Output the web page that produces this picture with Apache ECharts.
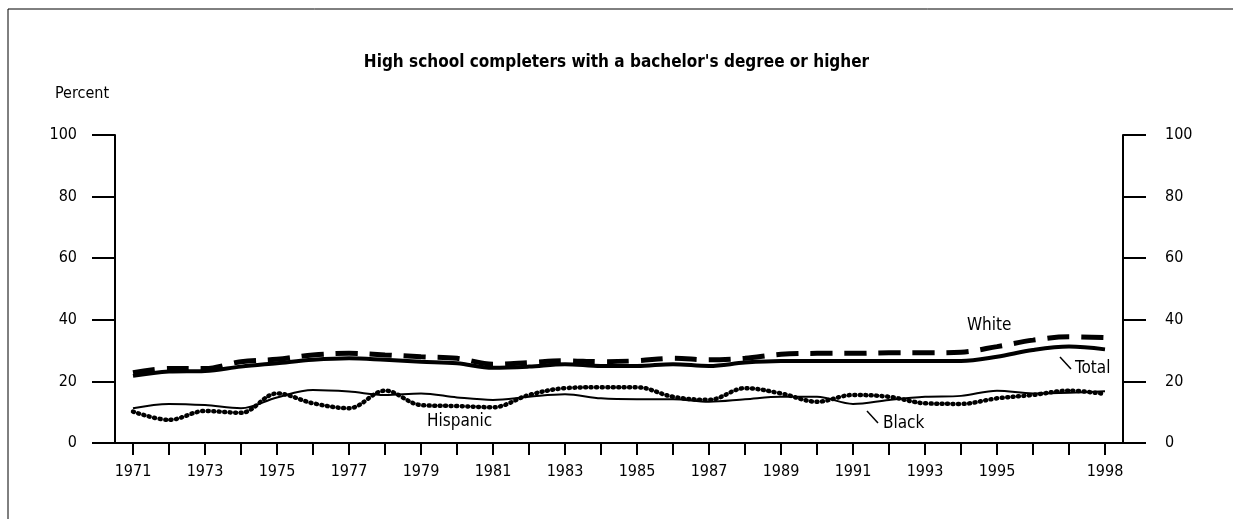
<!DOCTYPE html>
<html>
<head>
<meta charset="utf-8">
<script src="https://cdn.jsdelivr.net/npm/echarts@6/dist/echarts.min.js"></script>
<style>
html,body{margin:0;padding:0;background:#fff;}
#c{width:1233px;height:519px;}
</style>
</head>
<body>
<div id="c"></div>
<script>
const years = ['1971','1972','1973','1974','1975','1976','1977','1978','1979','1980','1981','1982','1983','1984','1985','1986','1987','1988','1989','1990','1991','1992','1993','1994','1995','1996','1997','1998'];
const shownYears = ['1971','1973','1975','1977','1979','1981','1983','1985','1987','1989','1991','1993','1995','1998'];
const total = [21.8, 23.2, 23.4, 24.8, 25.9, 27.0, 27.5, 27.0, 26.4, 25.9, 24.4, 24.8, 25.6, 25.0, 25.0, 25.6, 25.0, 26.1, 26.6, 26.6, 26.6, 26.6, 26.6, 26.6, 28.0, 30.2, 31.3, 30.4];
const white = [22.8, 24.2, 24.2, 26.4, 27.2, 28.6, 29.1, 28.6, 28.0, 27.5, 25.6, 26.1, 26.7, 26.4, 26.7, 27.5, 27.0, 27.5, 28.8, 29.1, 29.1, 29.3, 29.3, 29.5, 31.3, 33.4, 34.5, 34.2];
const black = [11.3, 12.7, 12.3, 11.3, 14.8, 17.2, 16.7, 15.6, 16.1, 14.8, 14.0, 15.0, 15.8, 14.5, 14.2, 14.2, 13.4, 14.2, 15.0, 15.0, 12.7, 14.0, 15.0, 15.3, 17.0, 16.1, 16.3, 16.8];
const hispanic = [10.2, 7.5, 10.4, 9.8, 16.1, 12.9, 11.3, 17.0, 12.3, 12.0, 11.6, 15.6, 17.8, 18.1, 18.1, 15.0, 14.0, 17.8, 16.1, 13.4, 15.6, 15.0, 12.9, 12.7, 14.5, 15.6, 17.0, 15.9];
const yTicks = [0, 20, 40, 60, 80, 100];

const FONT = "'Liberation Sans Narrow','DejaVu Sans Condensed','Open Sans',sans-serif";
const chart = echarts.init(document.getElementById('c'), null, {renderer: 'canvas'});
const axisLine = {show: true, lineStyle: {color: '#000', width: 2}};
const yAxisBase = {
  type: 'value', min: 0, max: 100, interval: 20,
  splitLine: {show: false},
  axisLine: axisLine,
  axisTick: {show: true, inside: false, length: 23, lineStyle: {color: '#000', width: 2}},
  axisLabel: {color: '#000', fontSize: 16, fontFamily: FONT,
    formatter: v => yTicks.includes(v) ? String(v) : ''}
};
chart.setOption({
  animation: false,
  backgroundColor: '#fff',
  title: {
    text: "High school completers with a bachelor's degree or higher",
    left: 'center', top: 49,
    textStyle: {fontSize: 17, fontWeight: 'bold', color: '#000', fontFamily: FONT}
  },
  grid: {left: 115, right: 110, top: 135, bottom: 76},
  xAxis: {
    type: 'category', data: years, boundaryGap: true,
    axisLine: axisLine,
    axisTick: {show: true, alignWithLabel: true, interval: 0, length: 12, lineStyle: {color: '#000', width: 2}},
    axisLabel: {color: '#000', fontSize: 16, fontFamily: FONT, margin: 21,
      interval: (i, v) => shownYears.includes(v)}
  },
  yAxis: [
    Object.assign({}, yAxisBase, {position: 'left', axisLabel: Object.assign({}, yAxisBase.axisLabel, {margin: 38})}),
    Object.assign({}, yAxisBase, {position: 'right', axisLabel: Object.assign({}, yAxisBase.axisLabel, {margin: 42})})
  ],
  series: [
    {name: 'Black', type: 'line', data: black, smooth: 0.35, symbol: 'none',
      lineStyle: {color: '#000', width: 2}},
    {name: 'Hispanic', type: 'line', data: hispanic, smooth: 0.35, symbol: 'none',
      lineStyle: {color: '#000', width: 4.5, type: [1, 4.5], cap: 'round'}},
    {name: 'Total', type: 'line', data: total, smooth: 0.35, symbol: 'none',
      lineStyle: {color: '#000', width: 4}},
    {name: 'White', type: 'line', data: white, smooth: 0.35, symbol: 'none',
      lineStyle: {color: '#000', width: 5, type: [22, 12]}}
  ],
  graphic: [
    {type: 'rect', shape: {x: 8, y: 9, width: 1240, height: 530}, style: {fill: 'none', stroke: '#000', lineWidth: 1}, silent: true},
    {type: 'text', left: 55, top: 86, style: {text: 'Percent', fontSize: 16, fontFamily: FONT, fill: '#000'}},
    {type: 'text', left: 967, top: 317, style: {text: 'White', fontSize: 17, fontFamily: FONT, fill: '#000'}},
    {type: 'text', left: 1075, top: 360, style: {text: 'Total', fontSize: 17, fontFamily: FONT, fill: '#000'}},
    {type: 'line', shape: {x1: 1060, y1: 357, x2: 1071, y2: 369}, style: {stroke: '#000', lineWidth: 1.5}},
    {type: 'text', left: 427, top: 413, style: {text: 'Hispanic', fontSize: 17, fontFamily: FONT, fill: '#000'}},
    {type: 'text', left: 883, top: 415, style: {text: 'Black', fontSize: 17, fontFamily: FONT, fill: '#000'}},
    {type: 'line', shape: {x1: 867, y1: 411, x2: 878, y2: 423}, style: {stroke: '#000', lineWidth: 1.5}}
  ]
});
</script>
</body>
</html>
